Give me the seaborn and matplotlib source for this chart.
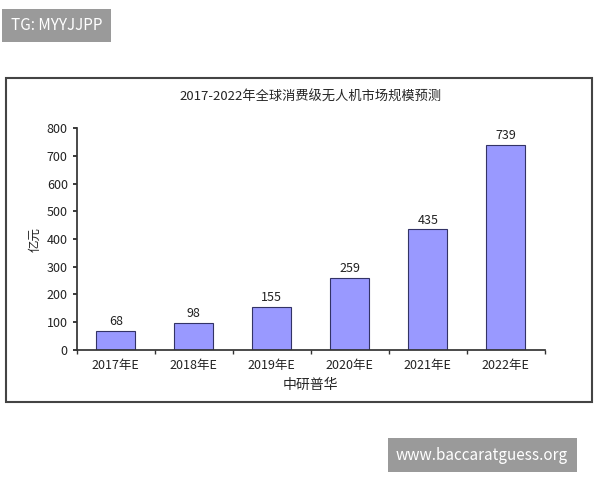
import matplotlib
matplotlib.use("Agg")
import matplotlib.pyplot as plt
import seaborn as sns
import pandas as pd
from matplotlib.patches import Rectangle

years = ["2017年E", "2018年E", "2019年E", "2020年E", "2021年E", "2022年E"]
values = [68, 98, 155, 259, 435, 739]
labels = ["68", "98", "155", "259", "435", "739"]

sns.set_theme(style="white")
plt.rcParams['font.family'] = ['Noto Sans CJK SC', 'DejaVu Sans']

df = pd.DataFrame({"year": years, "value": values})

fig = plt.figure(figsize=(6, 4.8), dpi=100)
# outer chart frame
fig.patches.append(Rectangle((0.01, 0.163), 0.976, 0.675, transform=fig.transFigure,
                             fill=False, edgecolor="#444444", lw=1.5))
ax = fig.add_axes([0.128, 0.271, 0.78, 0.462])
sns.barplot(data=df, x="year", y="value", color="#9999ff", edgecolor="#333366",
            linewidth=0.8, width=0.5, saturation=1, ax=ax)
for i, (v, t) in enumerate(zip(values, labels)):
    ax.text(i, v + 10, t, ha="center", va="bottom", fontsize=9, color="#222222")
ax.set_ylim(0, 800)
ax.set_yticks(range(0, 801, 100))
ax.set_xlim(-0.5, 5.5)
ax.tick_params(labelsize=9, colors="#222222", length=3, left=True, bottom=False)
ax.set_xticks([i - 0.5 for i in range(7)], minor=True)
ax.tick_params(which="minor", bottom=True, length=3, color="#333333")
for s in ["top", "right"]:
    ax.spines[s].set_visible(False)
for s in ["left", "bottom"]:
    ax.spines[s].set_color("#333333")
ax.set_xlabel("中研普华", fontsize=10)
ax.set_ylabel("亿元", fontsize=9)
ax.set_title("2017-2022年全球消费级无人机市场规模预测", fontsize=9.5, pad=20)

fig.text(0.018, 0.947, "TG: MYYJJPP", fontsize=11, color="white", va="center",
         bbox=dict(facecolor="#9a9a9a", edgecolor="none", pad=6))
fig.text(0.66, 0.052, "www.baccaratguess.org", fontsize=11, color="white", va="center",
         bbox=dict(facecolor="#9a9a9a", edgecolor="none", pad=6))

fig.savefig("out.png", dpi=100)
